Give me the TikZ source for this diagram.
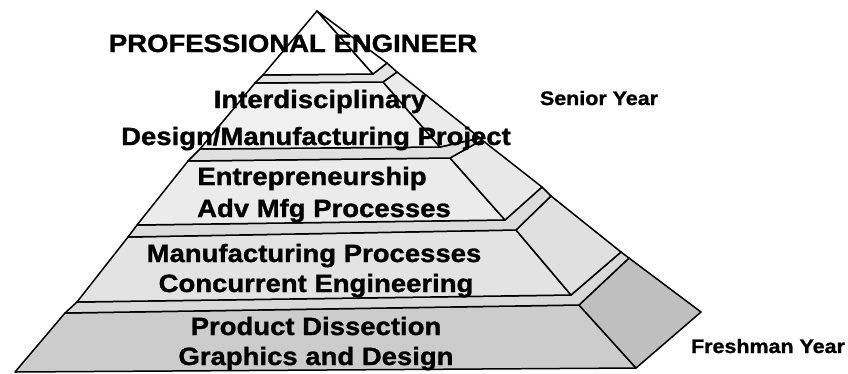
\documentclass[tikz,border=0pt]{standalone}
\usepackage{fontspec}
\setmainfont{Liberation Sans}[FakeStretch=1.1, BoldFeatures={FakeBold=1.2}]
\begin{document}
\begin{tikzpicture}[x={(1pt,0)}, y={(0,-1pt)},
  face/.style={draw, line width=1.5pt, line join=round, fill=#1},
  tiertext/.style={font=\fontsize{25}{28}\selectfont\bfseries, anchor=base, inner sep=0pt},
  yeartext/.style={font=\fontsize{19.5}{22}\selectfont\bfseries, anchor=base, inner sep=0pt}]
\useasboundingbox (0,0) rectangle (848,373);
% corner points, pixel grid
\coordinate (A) at (317,11);   \coordinate (L1) at (263,75);
\coordinate (R1) at (373,74);  \coordinate (S1) at (387,63);
\coordinate (TL2) at (255,83); \coordinate (TR2) at (383,82);
\coordinate (BR2) at (440,147); \coordinate (BL2) at (200,149);
\coordinate (ST2) at (397,72); \coordinate (SB2) at (480,138);
\coordinate (TL3) at (188,161); \coordinate (TR3) at (450,158);
\coordinate (BR3) at (505,220); \coordinate (BL3) at (137,225);
\coordinate (ST3) at (482,140); \coordinate (SB3) at (542,187);
\coordinate (TL4) at (128,237); \coordinate (TR4) at (516,230);
\coordinate (BR4) at (571,295); \coordinate (BL4) at (77,302);
\coordinate (ST4) at (551,196); \coordinate (SB4) at (621,252);
\coordinate (TL5) at (65,313);  \coordinate (TR5) at (579,305);
\coordinate (BR5) at (636,368); \coordinate (BL5) at (15,372);
\coordinate (ST5) at (629,258); \coordinate (SB5) at (701,312);
% bottom tier
\path[face=gray!40] (TL5) -- (TR5) -- (BR5) -- (BL5) -- cycle;
\path[face=gray!50] (TR5) -- (ST5) -- (SB5) -- (BR5) -- cycle;
\path[face=gray!30] (TL5) -- (TR5) -- (ST5) -- (SB4) -- (BR4) -- (BL4) -- cycle;
% fourth tier
\path[face=gray!22] (TL4) -- (TR4) -- (BR4) -- (BL4) -- cycle;
\path[face=gray!24] (TR4) -- (ST4) -- (SB4) -- (BR4) -- cycle;
\path[face=gray!28] (TL4) -- (TR4) -- (ST4) -- (SB3) -- (BR3) -- (BL3) -- cycle;
% third tier
\path[face=gray!16] (TL3) -- (TR3) -- (BR3) -- (BL3) -- cycle;
\path[face=gray!18] (TR3) -- (ST3) -- (SB3) -- (BR3) -- cycle;
\path[face=gray!24] (TL3) -- (TR3) -- (ST3) -- (SB2) -- (BR2) -- (BL2) -- cycle;
% second tier
\path[face=gray!12] (TL2) -- (TR2) -- (BR2) -- (BL2) -- cycle;
\path[face=gray!16] (TR2) -- (ST2) -- (SB2) -- (BR2) -- cycle;
\path[face=gray!22] (TL2) -- (TR2) -- (ST2) -- (S1) -- (R1) -- (L1) -- cycle;
% top
\path[face=white] (A) -- (R1) -- (L1) -- cycle;
\path[face=white] (A) -- (S1) -- (R1) -- cycle;
% labels
\node[tiertext] (prof) at (293,52) {PROFESSIONAL ENGINEER};
\node[tiertext] (inter) at (320,108) {Interdisciplinary};
\node[tiertext] (design) at (316,145) {Design/Manufacturing Project};
\node[tiertext] (entre) at (312,185) {Entrepreneurship};
\node[tiertext] (advmfg) at (324,217) {Adv Mfg Processes};
\node[tiertext] (mfgproc) at (314,262) {Manufacturing Processes};
\node[tiertext] (concur) at (316,292) {Concurrent Engineering};
\node[tiertext] (dissect) at (316,335) {Product Dissection};
\node[tiertext] (graphics) at (316,365) {Graphics and Design};
\node[yeartext] (senior) at (599,105) {Senior Year};
\node[yeartext] (freshman) at (768,353) {Freshman Year};
\end{tikzpicture}
\end{document}
